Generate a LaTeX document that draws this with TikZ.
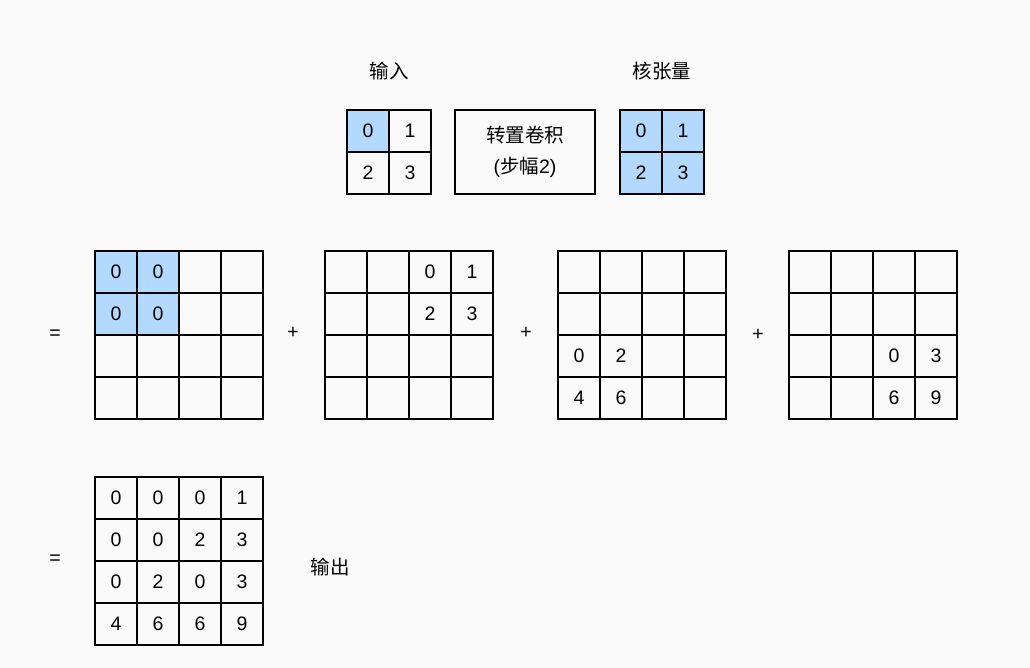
\documentclass[tikz,border=0pt]{standalone}
\usepackage{fontspec}
\setmainfont{Liberation Sans}
\newfontfamily\cjk{Noto Sans CJK SC}
\definecolor{cellblue}{RGB}{179,217,255}
\definecolor{pagegray}{RGB}{250,250,250}
\usetikzlibrary{positioning, backgrounds}

% one square grid of cells, row by row
\newcommand{\drawgrid}[4]{%
  \foreach \r/\vals in {#4} {
    \foreach \t [count=\c from 0] in \vals
      \node[cell] (#1-\r-\c) at ({#2+21+42*\c},{#3+21+42*\r}) {\t};
  }}

\begin{document}
\begin{tikzpicture}[
    x=1pt, y=-1pt,
    cell/.style={draw, line width=2pt, minimum size=42pt, inner sep=0pt,
      font=\fontsize{19.5}{22}\selectfont},
    lbl/.style={font=\fontsize{19.5}{22}\selectfont, inner sep=0pt},
  ]
    \useasboundingbox (0,0) rectangle (1030,668);

    % top row: input, operator, kernel
    \drawgrid{in}{347}{110}{0/{0,1},1/{2,3}}
    \node[draw, line width=2pt, minimum width=140pt, minimum height=84pt,
      align=center, lbl] (tconv) at (525,152)
      {{\cjk 转置卷积}\\[9pt]({\cjk 步幅}2)};
    \drawgrid{k}{620}{110}{0/{0,1},1/{2,3}}
    \node[lbl] (inlbl) at (389,71) {\cjk 输入};
    \node[lbl] (klbl) at (662,71) {\cjk 核张量};

    % partial results
    \drawgrid{a}{95}{251}{0/{0,0,{},{}},1/{0,0,{},{}},2/{{},{},{},{}},3/{{},{},{},{}}}
    \drawgrid{b}{325}{251}{0/{{},{},0,1},1/{{},{},2,3},2/{{},{},{},{}},3/{{},{},{},{}}}
    \drawgrid{c}{558}{251}{0/{{},{},{},{}},1/{{},{},{},{}},2/{0,2,{},{}},3/{4,6,{},{}}}
    \drawgrid{d}{789}{251}{0/{{},{},{},{}},1/{{},{},{},{}},2/{{},{},0,3},3/{{},{},6,9}}
    \node[lbl] (eq1) at (55,335) {=};
    \node[lbl] (plus1) at (293,333) {+};
    \node[lbl] (plus2) at (526,333) {+};
    \node[lbl] (plus3) at (758,335) {+};

    % sum
    \drawgrid{o}{95}{477}{0/{0,0,0,1},1/{0,0,2,3},2/{0,2,0,3},3/{4,6,6,9}}
    \node[lbl] (eq2) at (55,560) {=};
    \node[lbl] (outlbl) at (330,567) {\cjk 输出};

    \begin{scope}[on background layer]
      \fill[pagegray] (0,0) rectangle (1030,668);
      \fill[cellblue] (in-0-0.north west) rectangle (in-0-0.south east);
      \fill[cellblue] (k-0-0.north west) rectangle (k-1-1.south east);
      \fill[cellblue] (a-0-0.north west) rectangle (a-1-1.south east);
    \end{scope}
  \end{tikzpicture}
\end{document}
